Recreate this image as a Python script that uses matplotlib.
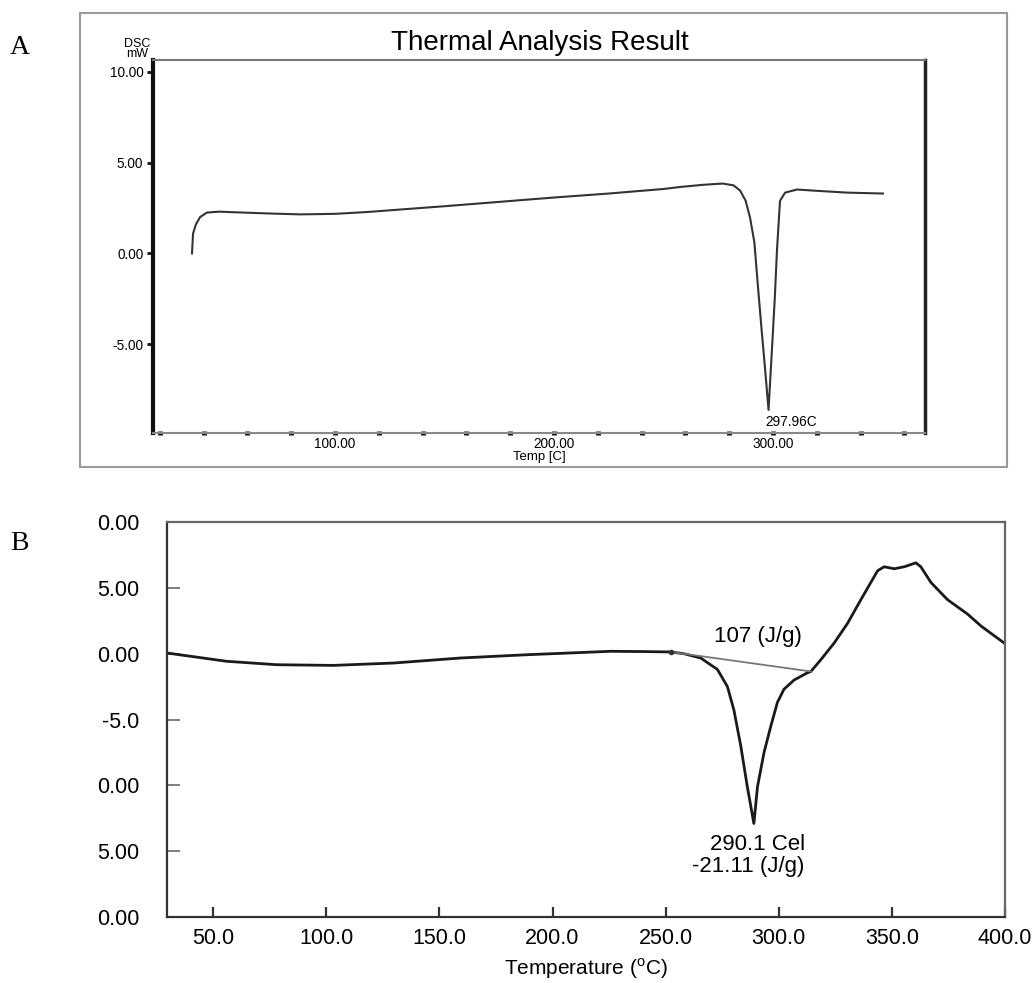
import numpy as np
import matplotlib
matplotlib.use("Agg")
import matplotlib.pyplot as plt
from matplotlib.patches import Rectangle
from matplotlib.ticker import MultipleLocator, FixedLocator, FixedFormatter

plt.rcParams['font.family'] = ['Liberation Sans', 'DejaVu Sans']
plt.rcParams['mathtext.fontset'] = 'custom'
plt.rcParams['mathtext.rm'] = 'Liberation Sans'

# panel A : DSC curve (Temp [C], mW)
temp_a = [34.7, 35.2, 36.5, 38.4, 41.5, 47, 53.4, 70, 84, 100, 114.6, 130, 150, 175,
          200, 225, 250, 257.5, 268, 277, 282, 285, 287.5, 289.5, 291.5, 293, 295,
          296.3, 297.96, 299.5, 300.8, 301.8, 303.2, 305.5, 311, 320, 333.8, 350.2]
dsc_a = [0.0, 1.1, 1.6, 2.0, 2.25, 2.3, 2.27, 2.2, 2.15, 2.18, 2.28, 2.42, 2.6, 2.84,
         3.08, 3.3, 3.55, 3.66, 3.78, 3.85, 3.75, 3.46, 2.9, 1.98, 0.6, -1.65, -4.5,
         -6.26, -8.63, -5.33, -2.5, 0.16, 2.9, 3.35, 3.52, 3.45, 3.35, 3.3]
peak_a = (297.96, -8.63)

# panel B : heat flow vs temperature
temp_b = [29.6, 56, 78.2, 103.2, 129.8, 159.3, 188.8, 225.7, 240, 252.2, 258, 265.5,
          272.9, 277.3, 280.2, 283.2, 286.1, 289, 290.6, 293.5, 296.5, 299.4, 302.3,
          306.8, 312.7, 314.2, 318.6, 324.5, 330.4, 336.3, 341, 343.7, 346.6, 351, 355.5,
          360.6, 362.8, 367.3, 374.6, 383.5, 389.4, 399.7]
heat_b = [0.05, -0.58, -0.84, -0.89, -0.71, -0.33, -0.08, 0.18, 0.16, 0.13, 0.0, -0.33,
          -1.2, -2.5, -4.3, -7.0, -10.1, -12.9, -10.1, -7.5, -5.5, -3.7, -2.7,
          -2.0, -1.45, -1.35, -0.46, 0.81, 2.3, 4.1, 5.5, 6.3, 6.6, 6.45, 6.6,
          6.9, 6.6, 5.4, 4.1, 3.0, 2.1, 0.8]
base_t = [252.2, 314.2]
base_v = [0.13, -1.35]
yticks_b = [10, 5, 0, -5, -10, -15, -20]
ytick_labels_b = ['0.00', '5.00', '0.00', '-5.0', '0.00', '5.00', '0.00']
xticks_b = [50, 100, 150, 200, 250, 300, 350, 400]

W, H = 1032, 983
fig = plt.figure(figsize=(W / 100, H / 100), dpi=100)

# outer frame of panel A
fig.patches.append(Rectangle((80 / W, 1 - 467 / H), 927 / W, 454 / H, transform=fig.transFigure,
                             fill=False, edgecolor='#9a9a9a', linewidth=1.5))

axA = fig.add_axes([153 / W, 1 - 433 / H, 772 / W, 373 / H])
axA.plot(temp_a, dsc_a, color='#333333', linewidth=1.5)
axA.set_xlim(16.9, 369.4)
axA.set_ylim(-9.9, 10.66)
axA.spines['top'].set_color('#777777')
axA.spines['top'].set_linewidth(1.5)
axA.spines['bottom'].set_color('#888888')
axA.spines['bottom'].set_linewidth(1.5)
axA.spines['left'].set_color('#111111')
axA.spines['left'].set_linewidth(3)
axA.spines['right'].set_color('#222222')
axA.spines['right'].set_linewidth(2.5)
axA.xaxis.set_major_locator(FixedLocator([100, 200, 300]))
axA.xaxis.set_minor_locator(MultipleLocator(20))
axA.xaxis.set_major_formatter(FixedFormatter(['100.00', '200.00', '300.00']))
axA.yaxis.set_major_locator(FixedLocator([10, 5, 0, -5]))
axA.yaxis.set_major_formatter(FixedFormatter(['10.00', '5.00', '0.00', '-5.00']))
axA.yaxis.set_minor_locator(MultipleLocator(0.5))
axA.tick_params(axis='x', which='both', direction='inout', length=3.5, width=3.5,
                color='#111111', labelsize=9.8, pad=1)
axA.tick_params(axis='y', which='major', direction='out', length=4, width=2,
                color='#111111', labelsize=9.8, pad=3)
axA.tick_params(axis='y', which='minor', direction='inout', length=3, width=1.5,
                color='#111111')
axA.set_xlabel('Temp [C]', fontsize=9.5, labelpad=0)
axA.text(peak_a[0] - 1.3, peak_a[1] - 0.3, '297.96C', fontsize=9.8, ha='left', va='top')
fig.text(137 / W, 1 - 44 / H, 'DSC', fontsize=9, ha='center', va='center')
fig.text(137 / W, 1 - 54 / H, 'mW', fontsize=9, ha='center', va='center')
fig.text(540 / W, 1 - 43 / H, 'Thermal Analysis Result', fontsize=20, ha='center', va='center')

axB = fig.add_axes([167 / W, 1 - 917 / H, 838 / W, 395 / H])
axB.plot(temp_b, heat_b, color='#1a1a1a', linewidth=2)
axB.plot(base_t, base_v, color='#777777', linewidth=1.3)
axB.plot(base_t[:1], base_v[:1], marker='o', markersize=3, color='#333333')
axB.set_xlim(29.6, 400)
axB.set_ylim(-20, 10)
for s in axB.spines.values():
    s.set_color('#333333')
    s.set_linewidth(1.6)
axB.spines['top'].set_color('#666666')
axB.spines['right'].set_color('#666666')
axB.set_xticks(xticks_b)
axB.set_xticklabels(['%.1f' % t for t in xticks_b])
axB.set_yticks(yticks_b)
axB.set_yticklabels(ytick_labels_b)
axB.tick_params(axis='x', direction='in', length=7, width=1.6, color='#333333',
                labelsize=15.5, pad=8)
axB.tick_params(axis='y', direction='in', length=9, width=1.2, color='#666666',
                labelsize=15.5, pad=20)
axB.set_xlabel('Temperature ($^{\\mathrm{o}}$C)', fontsize=15, labelpad=5)
axB.text(290.7, 1.3, '107 (J/g)', fontsize=16, ha='center', va='center')
axB.text(311.5, -14.5, '290.1 Cel', fontsize=16, ha='right', va='center')
axB.text(311.5, -16.2, '-21.11 (J/g)', fontsize=16, ha='right', va='center')

fig.text(10 / W, 1 - 47 / H, 'A', fontsize=20, family='Liberation Serif', ha='left', va='center')
fig.text(10 / W, 1 - 543 / H, 'B', fontsize=20, family='Liberation Serif', ha='left', va='center')

fig.savefig('out.png', dpi=100)
